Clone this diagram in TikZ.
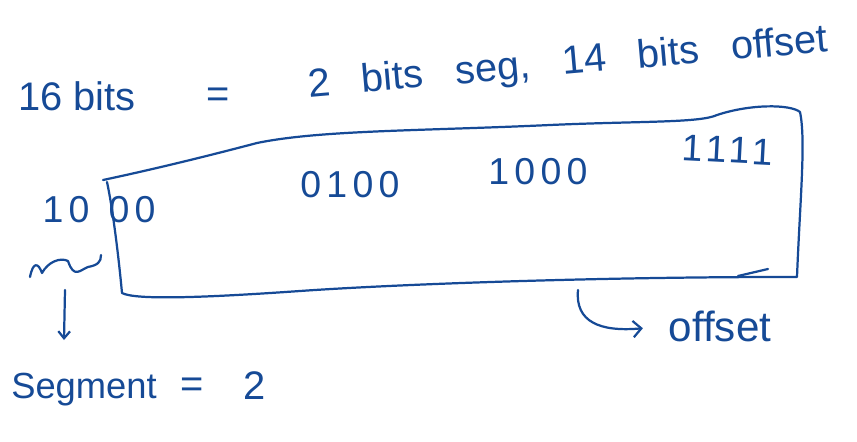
\documentclass[tikz,border=0pt]{standalone}
\usepackage{fontspec}
\setmainfont{Liberation Sans}
\newfontfamily\widefont[LetterSpace=14]{Liberation Sans}
\newcommand\loosewords{\spaceskip=0.8em\relax}
\usetikzlibrary{arrows.meta}
\definecolor{ink}{RGB}{22,74,150}

\begin{document}
\begin{tikzpicture}[
        x=0.03cm, y=-0.03cm,
        pen/.style={draw=ink, line width=1.9pt, line cap=round, line join=round},
        hand/.style={text=ink, inner sep=0pt, font=\fontsize{34}{40}\selectfont},
        bits/.style={text=ink, inner sep=0pt, font=\widefont\fontsize{32}{36}\selectfont}
      ]
      \useasboundingbox (0,0) rectangle (857,441);
      \node[hand] (total) at (77,96) {16 bits};
      \node[hand] (eqtop) at (218,98) {=};
      \node[hand, rotate=5] (split) at (568,64) {\loosewords 2 bits seg, 14 bits offset};
      % memory word
      \draw[pen] (103,180) .. controls (150,170) and (200,158) .. (257,143)
        .. controls (320,130) and (420,131) .. (550,125)
        .. controls (640,121) and (700,123) .. (717,115)
        .. controls (750,104) and (790,104) .. (800,112)
        .. controls (806,140) and (800,200) .. (797,277)
        -- (783,277)
        .. controls (600,277) and (400,284) .. (300,291)
        .. controls (200,298) and (135,300) .. (122,293)
        .. controls (118,250) and (112,205) .. (107,182);
      \draw[pen] (768,269) -- (738,276);
      \node[bits] (segbits) at (66,210) {10};
      \node[bits] (lowbits) at (132,210) {00};
      \node[bits] (nibble2) at (350,185) {0100};
      \node[bits] (nibble3) at (538,172) {1000};
      \node[bits, rotate=-3] (nibble4) at (728,150) {1111};
      % segment part
      \draw[pen] (30,277) .. controls (33,262) and (38,262) .. (42,273)
        .. controls (48,262) and (60,257) .. (68,261)
        .. controls (74,279) and (80,270) .. (88,267)
        .. controls (98,265) and (101,262) .. (101,255);
      \coordinate (squig) at (65,290);
      \node[hand, font=\fontsize{31}{36}\selectfont] (segment) at (84,390) {Segment};
      \node[hand] (eqbot) at (192,388) {=};
      \node[hand] (segval) at (255,386) {2};
      \draw[pen, -{Straight Barb[length=6pt, width=10pt]}] (squig) -- (64,340);
      % offset part
      \coordinate (hook) at (578,290);
      \node[hand, font=\fontsize{36}{40}\selectfont] (offset) at (720,326) {offset};
      \draw[pen, shorten >=22, -{Straight Barb[length=7pt, width=14pt]}] (hook) .. controls (575,322) and (600,332) .. (offset.west);
    \end{tikzpicture}
\end{document}
